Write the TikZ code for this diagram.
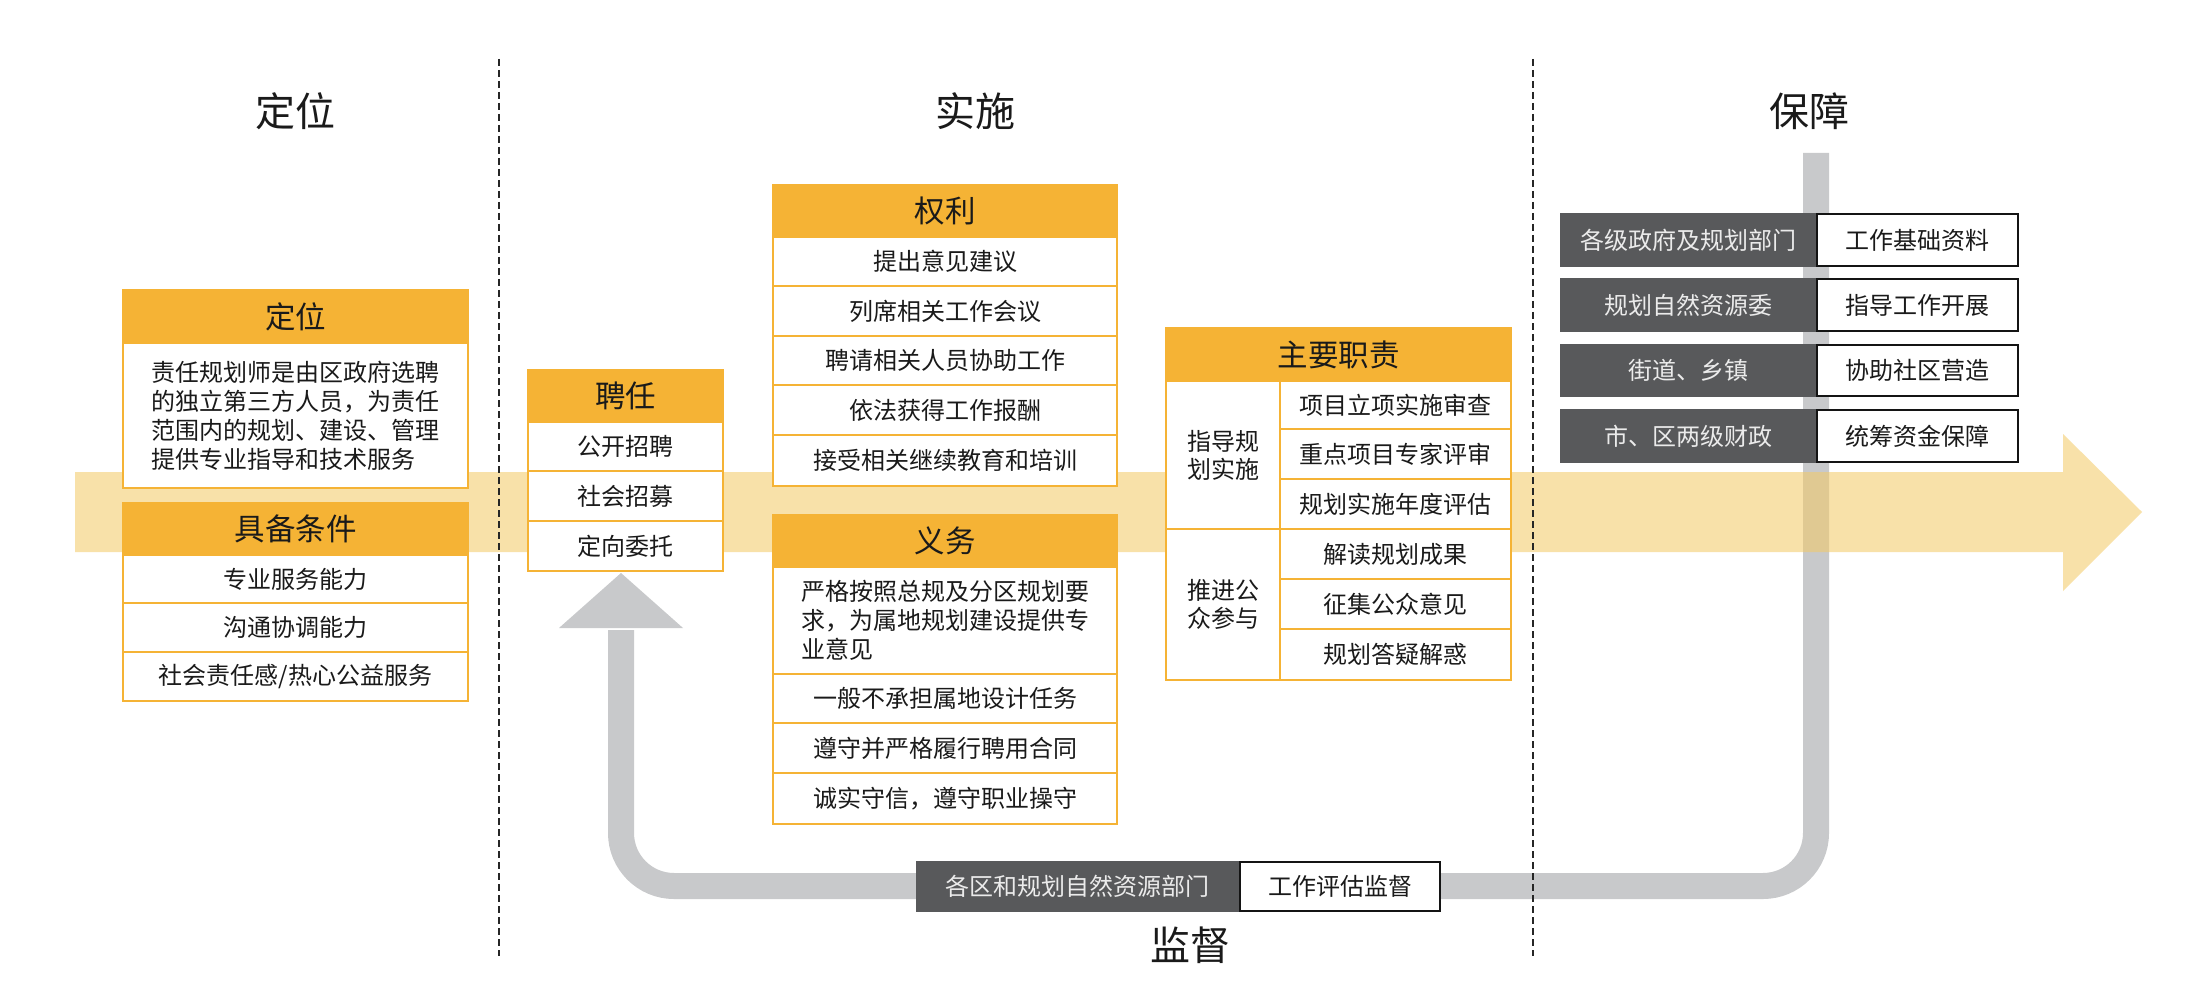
\documentclass[tikz,border=0pt]{standalone}
\usepackage{fontspec}
\setmainfont{Noto Sans CJK SC}
\definecolor{hdrorange}{HTML}{F5B335}
\definecolor{pathgray}{HTML}{C8C9CB}
\definecolor{darkbox}{HTML}{58595B}
\definecolor{bandbase}{RGB}{244,202,100}
\definecolor{inktext}{HTML}{1A1A1A}
\tikzset{
  hdr/.style={fill=hdrorange, draw=hdrorange, line width=2.2pt, inner sep=0pt, text=inktext, font=\fontsize{30.5}{36}\selectfont},
  cell/.style={fill=white, draw=hdrorange, line width=2.2pt, inner sep=0pt, text=inktext, font=\fontsize{24}{29}\selectfont},
  darkcell/.style={fill=darkbox, draw=none, inner sep=0pt, text=white!92!black, font=\fontsize{24}{29}\selectfont},
  whitecell/.style={fill=white, draw=black!92, line width=2.4pt, inner sep=0pt, text=inktext, font=\fontsize{24}{29}\selectfont},
  sectitle/.style={inner sep=0pt, text=inktext, font=\fontsize{40}{46}\selectfont},
  divider/.style={draw=black!85, line width=1.4pt, dash pattern=on 7pt off 4pt},
  loopflow/.style={draw=pathgray, line width=26pt, rounded corners=53pt},
  bandflow/.style={fill=bandbase, fill opacity=0.55}
}
\newcommand{\cellbox}[7]{%
  \pgfmathsetmacro{\bxx}{(#3+#5)/2}%
  \pgfmathsetmacro{\bxy}{(#4+#6)/2}%
  \pgfmathsetmacro{\bxw}{#5-#3}%
  \pgfmathsetmacro{\bxh}{#6-#4}%
  \node[#2, minimum width=\bxw pt, minimum height=\bxh pt] (#1) at (\bxx,\bxy) {#7};}
\begin{document}
\begin{tikzpicture}[x=1pt,y=-1pt]
\useasboundingbox (0,0) rectangle (2200,984);
\fill[white] (0,0) rectangle (2200,984);

% grey feedback loop (保障 -> 监督 -> 聘任)
\coordinate (gs) at (1816,153);
\coordinate (gc1) at (1816,886);
\coordinate (gc2) at (621,886);
\coordinate (ge) at (621,630);
\coordinate (gtip) at (621,573);
\draw[loopflow] (gs) -- (gc1) -- (gc2) -- (ge);
\fill[pathgray] (559,628) -- (gtip) -- (683,628) -- cycle;

% yellow band arrow
\fill[bandflow] (75,472) -- (2063,472) -- (2063,434) -- (2142,512) -- (2063,591) -- (2063,552) -- (75,552) -- cycle;

% dashed dividers
\coordinate (d1t) at (499,59);
\coordinate (d1b) at (499,956);
\coordinate (d2t) at (1533,59);
\coordinate (d2b) at (1533,956);
\draw[divider] (d1t) -- (d1b);
\draw[divider] (d2t) -- (d2b);

% section titles
\node[sectitle] (t1) at (295,111) {定位};
\node[sectitle] (t2) at (975,111) {实施};
\node[sectitle] (t3) at (1809,111) {保障};
\node[sectitle] (t4) at (1190,945) {监督};

% 定位
\cellbox{dwh}{hdr}{123}{290}{468}{343}{定位}
\cellbox{dwb}{cell,align=left}{123}{343}{468}{488}{责任规划师是由区政府选聘\\的独立第三方人员，为责任\\范围内的规划、建设、管理\\提供专业指导和技术服务}

% 具备条件
\cellbox{jbh}{hdr}{123}{503}{468}{555}{具备条件}
\cellbox{jb1}{cell}{123}{555}{468}{603}{专业服务能力}
\cellbox{jb2}{cell}{123}{603}{468}{652}{沟通协调能力}
\cellbox{jb3}{cell}{123}{652}{468}{701}{社会责任感/热心公益服务}

% 聘任
\cellbox{prh}{hdr}{528}{370}{723}{422}{聘任}
\cellbox{pr1}{cell}{528}{422}{723}{471}{公开招聘}
\cellbox{pr2}{cell}{528}{471}{723}{521}{社会招募}
\cellbox{pr3}{cell}{528}{521}{723}{571}{定向委托}

% 权利
\cellbox{qlh}{hdr}{773}{185}{1117}{237}{权利}
\cellbox{ql1}{cell}{773}{237}{1117}{286}{提出意见建议}
\cellbox{ql2}{cell}{773}{286}{1117}{336}{列席相关工作会议}
\cellbox{ql3}{cell}{773}{336}{1117}{385}{聘请相关人员协助工作}
\cellbox{ql4}{cell}{773}{385}{1117}{435}{依法获得工作报酬}
\cellbox{ql5}{cell}{773}{435}{1117}{486}{接受相关继续教育和培训}

% 义务
\cellbox{ywh}{hdr}{773}{515}{1117}{567}{义务}
\cellbox{yw1}{cell,align=left}{773}{567}{1117}{674}{严格按照总规及分区规划要\\求，为属地规划建设提供专\\业意见\hphantom{见见见见见见见见见}}
\cellbox{yw2}{cell}{773}{674}{1117}{723}{一般不承担属地设计任务}
\cellbox{yw3}{cell}{773}{723}{1117}{773}{遵守并严格履行聘用合同}
\cellbox{yw4}{cell}{773}{773}{1117}{824}{诚实守信，遵守职业操守}

% 主要职责
\cellbox{zzh}{hdr}{1166}{328}{1511}{381}{主要职责}
\cellbox{zzA}{cell,align=center,font=\fontsize{24}{28}\selectfont}{1166}{381}{1280}{529}{指导规\\划实施}
\cellbox{zzB}{cell,align=center,font=\fontsize{24}{28}\selectfont}{1166}{529}{1280}{680}{推进公\\众参与}
\cellbox{zz1}{cell}{1280}{381}{1511}{429}{项目立项实施审查}
\cellbox{zz2}{cell}{1280}{429}{1511}{479}{重点项目专家评审}
\cellbox{zz3}{cell}{1280}{479}{1511}{529}{规划实施年度评估}
\cellbox{zz4}{cell}{1280}{529}{1511}{579}{解读规划成果}
\cellbox{zz5}{cell}{1280}{579}{1511}{629}{征集公众意见}
\cellbox{zz6}{cell}{1280}{629}{1511}{680}{规划答疑解惑}

% 保障 rows
\cellbox{bz1d}{darkcell}{1560}{213}{1816}{267}{各级政府及规划部门}
\cellbox{bz1w}{whitecell}{1817}{214}{2018}{266}{工作基础资料}
\cellbox{bz2d}{darkcell}{1560}{278}{1816}{332}{规划自然资源委}
\cellbox{bz2w}{whitecell}{1817}{279}{2018}{331}{指导工作开展}
\cellbox{bz3d}{darkcell}{1560}{344}{1816}{397}{街道、乡镇}
\cellbox{bz3w}{whitecell}{1817}{345}{2018}{396}{协助社区营造}
\cellbox{bz4d}{darkcell}{1560}{409}{1816}{463}{市、区两级财政}
\cellbox{bz4w}{whitecell}{1817}{410}{2018}{462}{统筹资金保障}

% 监督 row
\cellbox{jdd}{darkcell}{916}{861}{1239}{912}{各区和规划自然资源部门}
\cellbox{jdw}{whitecell}{1240}{862}{1440}{911}{工作评估监督}
\end{tikzpicture}
\end{document}
